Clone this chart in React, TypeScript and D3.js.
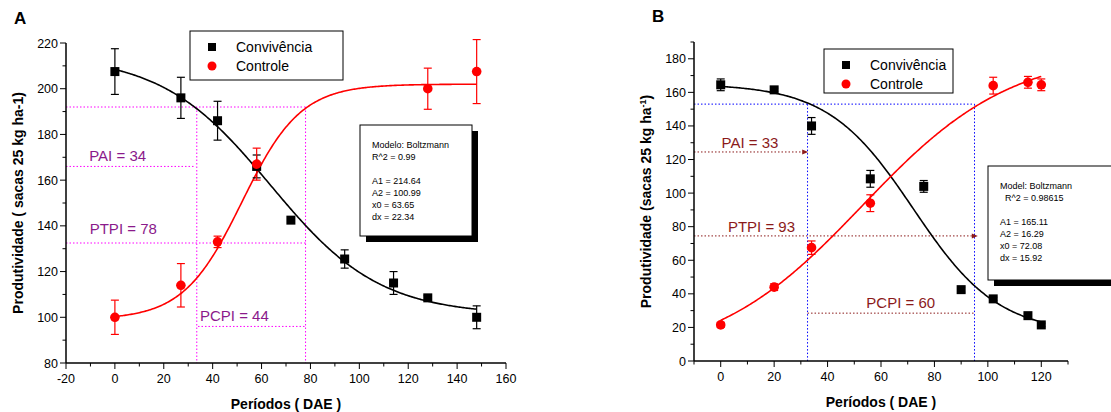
import React from "react";
import * as d3 from "d3";

// Panel A data
const aConv = [
  { x: 0, y: 207.5, e: 10 }, { x: 27, y: 196, e: 9 }, { x: 42, y: 186, e: 8.5 },
  { x: 58, y: 166, e: 5 }, { x: 72, y: 142.5, e: 0 }, { x: 94, y: 125.5, e: 4 },
  { x: 114, y: 115, e: 5 }, { x: 128, y: 108.5, e: 1 }, { x: 148, y: 100, e: 5 },
];
const aCtrl = [
  { x: 0, y: 100, e: 7.5 }, { x: 27, y: 114, e: 9.5 }, { x: 42, y: 133, e: 2.5 },
  { x: 58, y: 167, e: 7 }, { x: 128, y: 200, e: 9 }, { x: 148, y: 207.5, e: 14 },
];
const aConvFit = [214.64, 100.99, 63.65, 22.34];
const aCtrlFit = [99, 202, 52, 12];
const aStats = ["Modelo: Boltzmann", "R^2 = 0.99", "", "A1 = 214.64", "A2 = 100.99", "x0 = 63.65", "dx = 22.34"];

// Panel B data
const bConv = [
  { x: 0, y: 164.5, e: 3.5 }, { x: 20, y: 161.5, e: 1 }, { x: 34, y: 140, e: 5 },
  { x: 56, y: 108.5, e: 5 }, { x: 76, y: 104, e: 3.5 }, { x: 90, y: 42.5, e: 1.5 },
  { x: 102, y: 37, e: 1 }, { x: 115, y: 27, e: 1 }, { x: 120, y: 21.5, e: 1 },
];
const bCtrl = [
  { x: 0, y: 21.5, e: 1.5 }, { x: 20, y: 44, e: 2 }, { x: 34, y: 67.5, e: 4 },
  { x: 56, y: 94, e: 5 }, { x: 102, y: 164, e: 5 }, { x: 115, y: 166, e: 3.5 },
  { x: 120, y: 164.5, e: 3.5 },
];
const bConvFit = [165.11, 16.29, 72.08, 15.92];
const bCtrlFit = [0, 185, 53, 28];
const bStats = ["Model: Boltzmann", "  R^2 = 0.98615", "", "A1 = 165.11", "A2 = 16.29", "x0 = 72.08", "dx = 15.92"];

const boltz = (p: number[]) => (x: number) => p[1] + (p[0] - p[1]) / (1 + Math.exp((x - p[2]) / p[3]));

type Pt = { x: number; y: number; e: number };
type Seg = { x1: number; y1: number; x2: number; y2: number; arrow?: boolean };
type Lab = { x: number; y: number; t: string };

interface PanelProps {
  letter: string; lx: number; ly: number;
  xDom: [number, number]; yDom: [number, number];
  px: [number, number]; py: [number, number];
  xTicks: number[]; yTicks: number[];
  conv: Pt[]; ctrl: Pt[]; convFit: number[]; ctrlFit: number[];
  convRange: [number, number]; ctrlRange: [number, number];
  guides: Seg[]; guideColor: string; arrows: Seg[]; arrowColor: string;
  labels: Lab[]; labelColor: string;
  ylabel: React.ReactNode; ylabelX: number;
  legend: [number, number, number, number];
  stats: string[]; statsBox: [number, number, number, number];
}

const FONT = "Liberation Sans, Arial, sans-serif";

const Panel = (p: PanelProps) => {
  const x = d3.scaleLinear().domain(p.xDom).range(p.px);
  const y = d3.scaleLinear().domain(p.yDom).range(p.py);
  const curve = (fit: number[], r: [number, number]) => {
    const f = boltz(fit);
    const xs = d3.range(r[0], r[1] + 0.5, 0.5);
    return d3.line<number>().x((d) => x(d)).y((d) => y(f(d)))(xs) || "";
  };
  const minorX = d3.range(p.xDom[0], p.xDom[1] + 1, 10);
  const minorY = d3.range(p.yDom[0], p.yDom[1] + 1, 10);
  const bars = (pts: Pt[], c: string) =>
    pts.filter((d) => d.e > 0).map((d, i) => (
      <g key={c + i} stroke={c} strokeWidth={1.2}>
        <line x1={x(d.x)} x2={x(d.x)} y1={y(d.y - d.e)} y2={y(d.y + d.e)} />
        <line x1={x(d.x) - 4} x2={x(d.x) + 4} y1={y(d.y - d.e)} y2={y(d.y - d.e)} />
        <line x1={x(d.x) - 4} x2={x(d.x) + 4} y1={y(d.y + d.e)} y2={y(d.y + d.e)} />
      </g>
    ));
  const [lgx, lgy, lgw, lgh] = p.legend;
  const [sx, sy, sw, sh] = p.statsBox;
  return (
    <g fontFamily={FONT}>
      <text x={p.lx} y={p.ly} fontSize={17} fontWeight="bold">{p.letter}</text>
      {p.guides.map((s, i) => (
        <line key={"g" + i} x1={x(s.x1)} y1={y(s.y1)} x2={x(s.x2)} y2={y(s.y2)} stroke={p.guideColor} strokeWidth={1} strokeDasharray="1.5,2" />
      ))}
      {p.arrows.map((s, i) => (
        <g key={"a" + i}>
          <line x1={x(s.x1)} y1={y(s.y1)} x2={x(s.x2)} y2={y(s.y2)} stroke={p.arrowColor} strokeWidth={1} strokeDasharray="1.5,2" />
          {s.arrow && <path d={`M${x(s.x2)},${y(s.y2) - 2.5}L${x(s.x2) + 6},${y(s.y2)}L${x(s.x2)},${y(s.y2) + 2.5}Z`} fill={p.arrowColor} />}
        </g>
      ))}
      {p.labels.map((l, i) => (
        <text key={"l" + i} x={x(l.x)} y={y(l.y)} fill={p.labelColor} fontSize={15}>{l.t}</text>
      ))}
      <path d={curve(p.convFit, p.convRange)} fill="none" stroke="#000" strokeWidth={1.6} />
      <path d={curve(p.ctrlFit, p.ctrlRange)} fill="none" stroke="#ff0000" strokeWidth={1.6} />
      {bars(p.conv, "#000")}
      {bars(p.ctrl, "#ff0000")}
      {p.conv.map((d, i) => <rect key={"c" + i} x={x(d.x) - 4.5} y={y(d.y) - 4.5} width={9} height={9} fill="#000" />)}
      {p.ctrl.map((d, i) => <circle key={"r" + i} cx={x(d.x)} cy={y(d.y)} r={4.8} fill="#ff0000" />)}
      <line x1={p.px[0]} x2={p.px[1]} y1={p.py[0]} y2={p.py[0]} stroke="#000" strokeWidth={1.5} />
      <line x1={p.px[0]} x2={p.px[0]} y1={p.py[0]} y2={p.py[1]} stroke="#000" strokeWidth={1.5} />
      {minorX.map((t) => <line key={"mx" + t} x1={x(t)} x2={x(t)} y1={p.py[0]} y2={p.py[0] + (p.xTicks.includes(t) ? 6 : 3.5)} stroke="#000" />)}
      {minorY.map((t) => <line key={"my" + t} x1={p.px[0]} x2={p.px[0] - (p.yTicks.includes(t) ? 6 : 3.5)} y1={y(t)} y2={y(t)} stroke="#000" />)}
      {p.xTicks.map((t) => <text key={"xt" + t} x={x(t)} y={p.py[0] + 20} textAnchor="middle" fontSize={12.5}>{t}</text>)}
      {p.yTicks.map((t) => <text key={"yt" + t} x={p.px[0] - 8} y={y(t) + 4.5} textAnchor="end" fontSize={12.5}>{t}</text>)}
      <text x={(p.px[0] + p.px[1]) / 2} y={p.py[0] + 46} textAnchor="middle" fontSize={14} fontWeight="bold">Períodos ( DAE )</text>
      <text transform={`translate(${p.ylabelX},${(p.py[0] + p.py[1]) / 2}) rotate(-90)`} textAnchor="middle" fontSize={14} fontWeight="bold">{p.ylabel}</text>
      <rect x={lgx} y={lgy} width={lgw} height={lgh} fill="#fff" stroke="#000" />
      <rect x={lgx + 18} y={lgy + 12} width={8} height={8} fill="#000" />
      <circle cx={lgx + 22} cy={lgy + 35} r={4.5} fill="#ff0000" />
      <text x={lgx + 46} y={lgy + 21} fontSize={14}>Convivência</text>
      <text x={lgx + 46} y={lgy + 40} fontSize={14}>Controle</text>
      <rect x={sx + 6} y={sy + 6} width={sw} height={sh} fill="#000" />
      <rect x={sx} y={sy} width={sw} height={sh} fill="#fff" stroke="#000" />
      {p.stats.map((s, i) => (
        <text key={"s" + i} x={sx + 12} y={sy + 23 + i * 12} fontSize={9} style={{ whiteSpace: "pre" }}>{s}</text>
      ))}
    </g>
  );
};

export default function App() {
  return (
    <svg width={1111} height={412} style={{ position: "absolute", left: 0, top: 0, background: "#fff" }}>
      <Panel
        letter="A" lx={14} ly={24}
        xDom={[-20, 160]} yDom={[80, 220]} px={[66, 506]} py={[363, 43]}
        xTicks={d3.range(-20, 161, 20)} yTicks={d3.range(80, 221, 20)}
        conv={aConv} ctrl={aCtrl} convFit={aConvFit} ctrlFit={aCtrlFit}
        convRange={[0, 148]} ctrlRange={[0, 148]}
        guides={[
          { x1: -20, y1: 192, x2: 78, y2: 192 }, { x1: 33.5, y1: 192, x2: 33.5, y2: 80 },
          { x1: 78, y1: 192, x2: 78, y2: 80 }, { x1: -20, y1: 166, x2: 33, y2: 166 },
          { x1: -20, y1: 132.5, x2: 78, y2: 132.5 }, { x1: 34, y1: 96, x2: 78, y2: 96 },
        ]}
        guideColor="#ff00ff" arrows={[]} arrowColor="#8b1a1a"
        labels={[{ x: -10.5, y: 168.5, t: "PAI = 34" }, { x: -10.3, y: 136.5, t: "PTPI = 78" }, { x: 34.8, y: 98.5, t: "PCPI = 44" }]}
        labelColor="#8b1a8b"
        ylabel="Produtividade ( sacas 25 kg ha-1)" ylabelX={23}
        legend={[190, 31, 153, 49]}
        stats={aStats} statsBox={[360, 125, 112, 111]}
      />
      <Panel
        letter="B" lx={652} ly={22}
        xDom={[-10, 130]} yDom={[0, 190]} px={[694, 1068]} py={[361, 42]}
        xTicks={d3.range(0, 121, 20)} yTicks={d3.range(0, 181, 20)}
        conv={bConv} ctrl={bCtrl} convFit={bConvFit} ctrlFit={bCtrlFit}
        convRange={[0, 120]} ctrlRange={[0, 120]}
        guides={[
          { x1: -10, y1: 153, x2: 95, y2: 153 }, { x1: 32.5, y1: 153, x2: 32.5, y2: 0 },
          { x1: 95, y1: 153, x2: 95, y2: 0 },
        ]}
        guideColor="#0000ff"
        arrows={[
          { x1: -10, y1: 124.5, x2: 30.5, y2: 124.5, arrow: true },
          { x1: -10, y1: 74.5, x2: 94, y2: 74.5, arrow: true },
          { x1: 32.5, y1: 28.5, x2: 95, y2: 28.5 },
        ]}
        arrowColor="#8b1a1a"
        labels={[{ x: 0.3, y: 127, t: "PAI = 33" }, { x: 2.7, y: 77, t: "PTPI = 93" }, { x: 54.5, y: 31.5, t: "PCPI = 60" }]}
        labelColor="#8b1a1a"
        ylabel={<>Produtividade (sacas 25 kg ha<tspan dy={-5} fontSize={9}>-1</tspan><tspan dy={5}>)</tspan></>} ylabelX={651}
        legend={[824, 49, 129, 44]}
        stats={bStats} statsBox={[988, 166, 130, 114]}
      />
    </svg>
  );
}
